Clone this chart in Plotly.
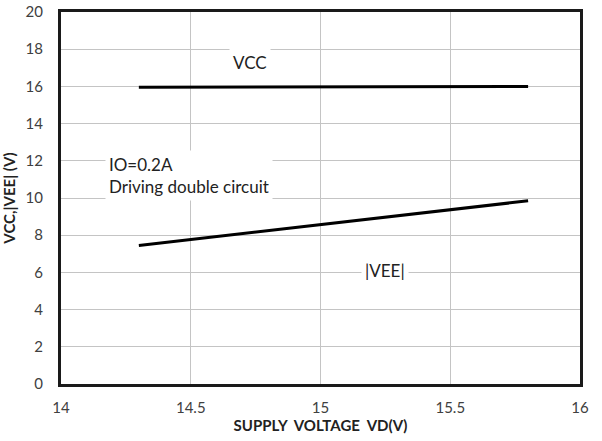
import plotly.graph_objects as go

# data
vd = [14.3, 15.8]
vcc = [15.95, 16.0]
vee = [7.45, 9.85]

x_ticks = [14, 14.5, 15, 15.5, 16]
y_ticks = [0, 2, 4, 6, 8, 10, 12, 14, 16, 18, 20]

FONT = "Lato, Open Sans, sans-serif"

fig = go.Figure()
fig.add_trace(go.Scatter(x=vd, y=vcc, mode="lines", name="VCC",
                         line=dict(color="black", width=3)))
fig.add_trace(go.Scatter(x=vd, y=vee, mode="lines", name="|VEE|",
                         line=dict(color="black", width=3)))

# labels with white boxes, as in the original
notes = [
    dict(x=14.73, y=17.3, text="VCC"),
    dict(x=14.17, y=11.2, text="IO=0.2A<br>Driving double circuit", align="left", xanchor="left"),
    dict(x=15.25, y=6.1, text="|VEE|"),
]
for n in notes:
    fig.add_annotation(
        x=n["x"], y=n["y"], text=n["text"], showarrow=False,
        align=n.get("align", "center"), xanchor=n.get("xanchor", "center"),
        bgcolor="white", borderpad=3,
        font=dict(family=FONT, size=17, color="#222"),
    )

fig.update_layout(
    width=602, height=441,
    plot_bgcolor="white", paper_bgcolor="white",
    showlegend=False,
    font=dict(family=FONT, size=15, color="#404040"),
    margin=dict(l=61, r=22, t=12, b=57),
)
fig.update_xaxes(
    range=[14, 16], tickvals=x_ticks, ticktext=[f"{v:g}" for v in x_ticks],
    showgrid=True, gridcolor="#c4c4c4", gridwidth=1,
    showline=True, linecolor="#1a1a1a", linewidth=3, mirror=True,
    zeroline=False, ticks="", ticklabelstandoff=8, automargin=False,
    ticklabeloverflow="allow",
    title=dict(text="<b>SUPPLY  VOLTAGE  VD(V)</b>", font=dict(size=15, color="#222"), standoff=6),
)
fig.update_yaxes(
    range=[0, 20], tickvals=y_ticks,
    showgrid=True, gridcolor="#c4c4c4", gridwidth=1,
    showline=True, linecolor="#1a1a1a", linewidth=3, mirror=True,
    zeroline=False, ticks="", ticklabelstandoff=12, automargin=False,
    ticklabeloverflow="allow",
    title=dict(text="<b>VCC,|VEE| (V)</b>", font=dict(size=15, color="#222"), standoff=10),
)

# drop the default 8px body margin so the figure sits at the page corner
fig.write_html("out.html", config={"displayModeBar": False},
               post_script="document.body.style.margin='0';")
